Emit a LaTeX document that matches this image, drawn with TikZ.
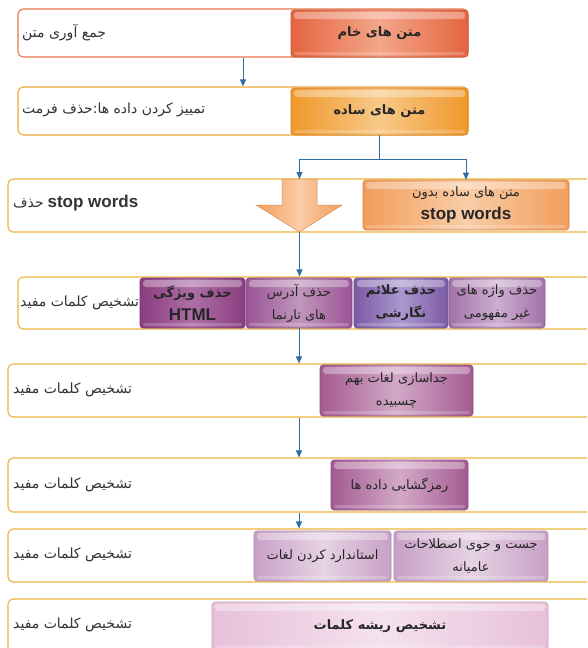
\documentclass[tikz,border=0pt]{standalone}
\usepackage{fontspec}
\setmainfont{Liberation Sans}
\newfontfamily\fa[Script=Arabic]{DejaVu Sans}
\TeXXeTstate=1
\newcommand{\fatext}[1]{{\fa\beginR #1\endR}}
\usetikzlibrary{arrows.meta}
\definecolor{flowblue}{HTML}{2F6EA5}
\definecolor{bandred}{HTML}{E9774E}
\definecolor{bandorange}{HTML}{EFA73A}
\definecolor{bandgold}{HTML}{EDB53C}
\definecolor{rawred}{HTML}{E5643F}
\definecolor{rawredlt}{HTML}{F3A68A}
\definecolor{plainor}{HTML}{EF982B}
\definecolor{plainorlt}{HTML}{F8C98A}
\definecolor{stopor}{HTML}{F29D5A}
\definecolor{stoporlt}{HTML}{F9CDA8}
\definecolor{htmlpur}{HTML}{8A3C80}
\definecolor{htmlpurlt}{HTML}{AE6FA6}
\definecolor{urlpur}{HTML}{9A5496}
\definecolor{urlpurlt}{HTML}{C196BC}
\definecolor{punctpur}{HTML}{7C5AA5}
\definecolor{punctpurlt}{HTML}{AB98CE}
\definecolor{vaguepur}{HTML}{A272AA}
\definecolor{vaguepurlt}{HTML}{CDAED0}
\definecolor{splitpur}{HTML}{A45A91}
\definecolor{splitpurlt}{HTML}{D2A9C7}
\definecolor{slangpur}{HTML}{C7A0C6}
\definecolor{slangpurlt}{HTML}{E6D3E4}
\definecolor{rootpink}{HTML}{E7C0DA}
\definecolor{rootpinklt}{HTML}{F5E2EE}

\begin{document}
\begin{tikzpicture}[x=1pt, y=-1pt,
    band/.style={draw=#1, line width=1.1pt, rounded corners=5pt, fill=white, inner sep=0pt},
    gloss/.style={path picture={
      \fill[white, opacity=.35, rounded corners=3pt]
        ([xshift=3pt,yshift=-2pt]path picture bounding box.north west) rectangle
        ([xshift=-3pt,yshift=-9pt]path picture bounding box.north east);
      \fill[white, opacity=.2, rounded corners=2pt]
        ([xshift=3pt,yshift=2pt]path picture bounding box.south west) rectangle
        ([xshift=-3pt,yshift=5pt]path picture bounding box.south east);}},
    stepbox/.style 2 args={draw=#1!85!black, line width=.6pt, rounded corners=3pt,
      left color=#1, right color=#1, middle color=#2, gloss, inner sep=0pt,
      align=center, text=black!85, font=\fontsize{13}{23}\selectfont},
    boldbox/.style={font=\fontsize{13}{23}\selectfont\bfseries},
    note/.style={anchor=west, inner sep=0pt, text=black!80, font=\fontsize{14}{16}\selectfont},
    flow/.style={draw=flowblue, line width=.9pt, -{Triangle[length=7pt,width=6pt]}},
  ]
  \useasboundingbox (0,0) rectangle (587,648);
  \fill[white] (0,0) rectangle (587,648);
  \clip (0,0) rectangle (587,648);

  % جمع آوری
  \node[band=bandred, minimum width=450pt, minimum height=48pt] (band1) at (243,33) {};
  \node[stepbox={rawred}{rawredlt}, boldbox, minimum width=177pt, minimum height=47pt] (box1) at (379.5,33.5) {\fatext{متن های خام}};
  \node[note] (txt1) at (22,33) {\fatext{جمع آوری متن}};

  % حذف فرمت
  \node[band=bandorange, minimum width=450pt, minimum height=48pt] (band2) at (243,111) {};
  \node[stepbox={plainor}{plainorlt}, boldbox, minimum width=177pt, minimum height=47pt] (box2) at (379.5,111.5) {\fatext{متن های ساده}};
  \node[note] (txt2) at (22,110) {\fatext{تمییز کردن داده ها:حذف فرمت}};
  \draw[flow] (band1) -- (band2);

  % stop words
  \node[band=bandgold, minimum width=592pt, minimum height=53pt] (band3) at (304,205.5) {};
  \node[stepbox={stopor}{stoporlt}, minimum width=206pt, minimum height=50pt] (box3) at (466,205) {\fatext{متن های ساده بدون}\\{\fontsize{17}{19}\selectfont\bfseries stop words}};
  \node[note] (txt3) at (13,203) {\fatext{حذف} {\fontsize{17}{19}\selectfont\bfseries stop words}};
  \coordinate (blktop) at (299.5,179);
  \coordinate (blktip) at (299.5,232);
  \shadedraw[left color=stopor, right color=stopor, middle color=stoporlt, draw=stopor!90!black, line width=.5pt]
    (282,179) -- (317,179) -- (317,205) -- (342,205) -- (blktip) -- (256,205) -- (282,205) -- cycle;
  \coordinate (fork) at ([yshift=-24pt]box2.south);
  \draw[flow] (box2.south) -- (fork) -| (blktop);
  \draw[flow] (fork) -| (box3.north);

  % پاکسازی
  \node[band=bandgold, minimum width=582pt, minimum height=52pt] (band4) at (309,303) {};
  \node[stepbox={htmlpur}{htmlpurlt}, boldbox, minimum width=105pt, minimum height=50pt] (box4a) at (192.5,303) {\fatext{حذف ویژگی}\\{\fontsize{17}{19}\selectfont HTML}};
  \node[stepbox={urlpur}{urlpurlt}, minimum width=106pt, minimum height=50pt] (box4b) at (299,303) {\fatext{حذف آدرس}\\\fatext{های تارنما}};
  \node[stepbox={punctpur}{punctpurlt}, boldbox, minimum width=94pt, minimum height=50pt] (box4c) at (401,303) {\fatext{حذف علائم}\\\fatext{نگارشی}};
  \node[stepbox={vaguepur}{vaguepurlt}, minimum width=96pt, minimum height=50pt] (box4d) at (497,303) {\fatext{حذف واژه های}\\\fatext{غیر مفهومی}};
  \node[note] (txt4) at (20,303) {\fatext{تشخیص کلمات مفید}};
  \draw[flow] (blktip) -- (blktip |- band4.north);

  % جداسازی
  \node[band=bandgold, minimum width=592pt, minimum height=53pt] (band5) at (304,390.5) {};
  \node[stepbox={splitpur}{splitpurlt}, minimum width=153pt, minimum height=51pt] (box5) at (396.5,390.5) {\fatext{جداسازی لغات بهم}\\\fatext{چسبیده}};
  \node[note] (txt5) at (13,390) {\fatext{تشخیص کلمات مفید}};
  \draw[flow] (box4b.south) -- (box4b.south |- band5.north);

  % رمزگشایی
  \node[band=bandgold, minimum width=592pt, minimum height=54pt] (band6) at (304,485) {};
  \node[stepbox={splitpur}{splitpurlt}, minimum width=137pt, minimum height=50pt] (box6) at (399.5,485) {\fatext{رمزگشایی داده ها}};
  \node[note] (txt6) at (13,485) {\fatext{تشخیص کلمات مفید}};
  \draw[flow] (band5.south -| box4b) -- (band6.north -| box4b);

  % استانداردسازی
  \node[band=bandgold, minimum width=592pt, minimum height=53pt] (band7) at (304,555.5) {};
  \node[stepbox={slangpur}{slangpurlt}, minimum width=137pt, minimum height=50pt] (box7a) at (322.5,556) {\fatext{استاندارد کردن لغات}};
  \node[stepbox={slangpur}{slangpurlt}, minimum width=154pt, minimum height=50pt] (box7b) at (471,556) {\fatext{جست و جوی اصطلاحات}\\\fatext{عامیانه}};
  \node[note] (txt7) at (13,555) {\fatext{تشخیص کلمات مفید}};
  \draw[flow] (band6.south -| box4b) -- (band7.north -| box4b);

  % ریشه یابی
  \node[band=bandgold, minimum width=592pt, minimum height=53pt] (band8) at (304,625.5) {};
  \node[stepbox={rootpink}{rootpinklt}, boldbox, minimum width=336pt, minimum height=48pt] (box8) at (380,626) {\fatext{تشخیص ریشه کلمات}};
  \node[note] (txt8) at (13,625) {\fatext{تشخیص کلمات مفید}};
\end{tikzpicture}
\end{document}
